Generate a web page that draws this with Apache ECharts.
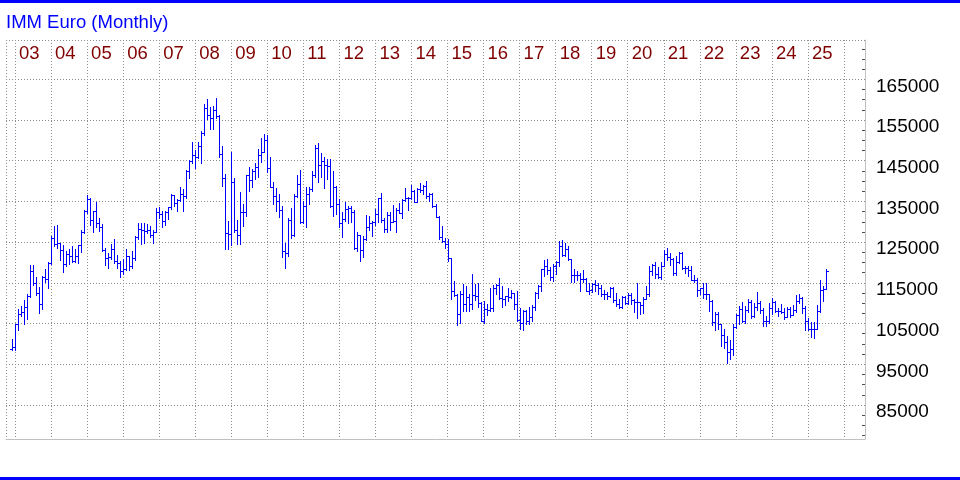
<!DOCTYPE html>
<html>
<head>
<meta charset="utf-8">
<script src="https://cdn.jsdelivr.net/npm/echarts@6/dist/echarts.min.js"></script>
<style>html,body{margin:0;padding:0;background:#fff}#c{width:960px;height:480px}</style>
</head>
<body>
<div id="c"></div>
<script>
const chartTitle = 'IMM Euro (Monthly)';
const firstBar = { year: 2002, month: 11 };   // first monthly bar
const yearLabels = ['03','04','05','06','07','08','09','10','11','12','13','14','15','16','17','18','19','20','21','22','23','24','25'];
const yLabels = [85000, 95000, 105000, 115000, 125000, 135000, 145000, 155000, 165000];

const opens = [
  98850, 99200,
  104870,107300,107900,109100,111650,118000,114900,112450,109900,116500,115900,119950,
  125950,124550,124700,123150,119750,122000,121700,120250,121700,124350,127600,132700,
  135550,130400,132550,129650,128750,122950,121000,121250,123350,120250,119950,117900,
  118450,121600,119150,121150,126250,128350,127900,127700,128100,126850,127600,132500,
  132000,130100,132300,133550,136500,134500,135400,136800,136300,142600,144900,146300,
  145900,148600,151850,157850,156250,155500,157550,156050,146750,140800,127250,126950,
  139700,128050,126700,132500,132350,141550,140300,142550,143400,146400,147200,150050,
  143200,138650,136250,135100,132950,122750,122350,130550,126800,136300,139250,129850,
  133800,136900,138050,141600,148050,143950,145000,143950,143750,133850,138650,134450,
  129600,130800,133200,133400,132300,123650,126650,123000,125750,128600,129600,129900,
  131900,135800,130550,128200,131700,129950,130100,133000,132200,135250,135800,135900,
  137450,134850,138000,137700,138700,136350,136900,133900,131300,126300,125250,124500,
  121000,112900,111950,107300,112200,109850,111450,109850,112100,111750,110050,105650,
  108600,108300,108750,113800,114550,111300,111050,111750,111550,112400,109800,105900,
  105200,108000,105750,106500,108950,112400,114250,118400,119100,118100,116450,119050,
  120050,124150,121950,123250,120800,116900,116850,116900,116000,116050,113100,113150,
  114650,114450,113700,112150,112150,111700,113700,110800,109850,109000,111500,110150,
  112100,110900,110250,110300,109550,111050,112350,117800,119350,117200,116450,119250,
  122150,121350,120750,117300,120200,122250,118550,118700,118050,115800,115600,113350,
  113700,112350,112200,110650,105450,107350,104800,102200,100550,98000,98800,104050,
  107050,108650,105750,108400,110200,106900,109100,109950,108450,105750,105750,108850,
  110400,108150,108050,107900,106650,108500,107150,108250,110450,111350,108850,105750,
  103550,103600,103750,108150,113300,113450
];
const highs = [
  101250,105000,
  108650,109350,110800,112300,119350,119300,116400,114000,116700,118300,120050,126450,
  129000,129300,124900,124250,122750,123200,124000,123300,124400,128100,133000,136650,
  135800,132750,134800,130900,129350,123600,122400,124450,125850,121850,120250,120900,
  123250,121700,122850,126450,129800,129800,129800,129450,129000,128050,133300,133650,
  132700,132650,133750,136800,136600,135500,138500,138000,142800,145300,149700,147600,
  149700,152400,159050,160200,158200,158450,160400,156200,148650,141700,130100,147200,
  140700,130450,137400,134300,141600,143400,142950,144450,147800,150600,151450,151400,
  145800,139850,138200,136900,133850,124700,131000,133350,136850,141600,142800,135000,
  138600,138600,142500,148800,149400,147000,145800,145500,145500,142500,138700,135500,
  132350,134850,133850,133850,132800,127450,126700,126400,131700,131400,130100,133100,
  135900,137100,131000,132450,132450,134150,133450,134500,135700,138300,136200,138950,
  137750,138250,139650,139050,139950,137000,137000,134450,131500,128850,126000,125700,
  121050,115350,112150,112900,114650,114350,112150,117150,114600,114950,110400,110600,
  109900,113750,114400,114650,116150,114250,111850,113650,113300,112550,113000,108750,
  108300,108300,109050,109500,112650,114450,118450,120700,120900,118800,119600,120250,
  125350,125550,124750,124150,120950,118500,117900,117350,118150,116250,115000,114850,
  115700,114900,114500,113250,112650,114100,114100,112500,111100,111800,111800,112400,
  112400,111000,114950,110400,111450,114200,119100,119650,120100,118800,120050,123100,
  123500,122450,121150,121500,122650,122550,119100,119050,119100,116900,116150,113850,
  114850,114950,112350,110750,107850,107750,104850,103700,102000,100950,104800,107350,
  109300,110350,109300,110950,110900,110100,112750,110650,108800,106950,110150,111400,
  110450,108900,109800,108850,108950,109150,109500,112000,112150,111450,109350,106300,
  105350,105300,109550,115750,114200,118300
];
const lows = [
  98600, 98600,
  103350,106900,105000,106200,111600,114400,112100,107650,108600,115300,113800,119700,
  124000,123500,120600,117600,119050,119600,120150,120100,120000,122500,127350,132100,
  129250,127600,128800,127800,122900,119500,118700,120850,119850,118750,116400,117100,
  118200,118200,118700,120700,125700,124550,124800,127200,126150,124800,127450,131000,
  128650,129250,130700,133050,134000,132650,135000,132600,135800,140700,144500,143300,
  145750,144400,151400,155150,152850,152850,155550,145800,138800,123300,123300,124200,
  127450,124550,124550,128850,131350,137500,138450,140450,141050,144800,147150,142200,
  138600,134400,132700,131150,121450,118750,121500,125900,126600,136200,129700,129700,
  128700,134300,137500,141100,139700,140900,138400,140500,133600,131450,131850,128600,
  126250,130300,129750,129950,123350,122900,120400,121300,125600,128000,126600,129200,
  129950,130000,127450,127450,127950,129900,127550,132050,131000,135000,132950,135500,
  134750,134800,137250,136750,135850,135000,133650,131250,125700,125000,123600,120300,
  111000,111800,104600,105200,108200,108200,108100,108500,110900,108950,105600,105250,
  107100,108100,108100,112150,111000,109100,109500,110450,111200,108500,105700,103550,
  103400,104950,104950,105700,108400,111200,113100,116650,117150,115750,115550,117200,
  119150,121550,121550,120550,115100,115100,115750,113000,115250,113000,112150,112700,
  112900,112350,111750,111100,111050,111600,110300,109250,108800,108800,109800,109800,
  109900,107800,106350,107250,107650,110950,111850,116950,116100,116200,116000,119250,
  120550,119500,117050,117050,119850,118450,117500,116650,115650,115250,111850,112200,
  111200,111050,108050,104700,103500,103600,99500,99000,95360,96300,97300,103950,
  104800,105350,105150,107900,106350,106650,108350,107650,104500,104500,105150,107250,
  107950,106950,107650,106000,106500,106650,107100,107750,110000,107600,103350,103450,
  101750,101400,103600,107800,110650,113450
];
const closes = [
  99200,104870,
  107300,107900,109100,111650,118000,114900,112450,109900,116500,115900,119950,125950,
  124550,124700,123150,119750,122000,121700,120250,121700,124350,127600,132700,135550,
  130400,132550,129650,128750,122950,121000,121250,123350,120250,119950,117900,118450,
  121600,119150,121150,126250,128350,127900,127700,128100,126850,127600,132500,132000,
  130100,132300,133550,136500,134500,135400,136800,136300,142600,144900,146300,145900,
  148600,151850,157850,156250,155500,157550,156050,146750,140800,127250,126950,139700,
  128050,126700,132500,132350,141550,140300,142550,143400,146400,147200,150050,143200,
  138650,136250,135100,132950,122750,122350,130550,126800,136300,139250,129850,133800,
  136900,138050,141600,148050,143950,145000,143950,143750,133850,138650,134450,129600,
  130800,133200,133400,132300,123650,126650,123000,125750,128600,129600,129900,131900,
  135800,130550,128200,131700,129950,130100,133000,132200,135250,135800,135900,137450,
  134850,138000,137700,138700,136350,136900,133900,131300,126300,125250,124500,121000,
  112900,111950,107300,112200,109850,111450,109850,112100,111750,110050,105650,108600,
  108300,108750,113800,114550,111300,111050,111750,111550,112400,109800,105900,105200,
  108000,105750,106500,108950,112400,114250,118400,119100,118100,116450,119050,120050,
  124150,121950,123250,120800,116900,116850,116900,116000,116050,113100,113150,114650,
  114450,113700,112150,112150,111700,113700,110800,109850,109000,111500,110150,112100,
  110900,110250,110300,109550,111050,112350,117800,119350,117200,116450,119250,122150,
  121350,120750,117300,120200,122250,118550,118700,118050,115800,115600,113350,113700,
  112350,112200,110650,105450,107350,104800,102200,100550,98000,98800,104050,107050,
  108650,105750,108400,110200,106900,109100,109950,108450,105750,105750,108850,110400,
  108150,108050,107900,106650,108500,107150,108250,110450,111350,108850,105750,103550,
  103600,103750,108150,113300,113450,117850
];

// month categories: 2 empty slots before the first bar, 13 after the last
const padBefore = 2, padAfter = 13;
const cats = [];
for (let k = -padBefore; k < opens.length + padAfter; k++) {
  const m = firstBar.month - 1 + k;
  const y = firstBar.year + Math.floor(m / 12);
  const mm = ((m % 12) + 12) % 12 + 1;
  cats.push(y + '-' + String(mm).padStart(2, '0'));
}
const bars = opens.map((o, i) => [i + padBefore, o, highs[i], lows[i], closes[i]]);
const firstLabelYear = 2002; // year whose December line carries yearLabels[0]

const FONT = '"Liberation Sans", Arial, sans-serif';
const DOT = { color: '#8c8c8c', type: [1, 2], width: 1 };

function renderItem(params, api) {
  const idx = api.value(0);
  const pO = api.coord([idx, api.value(1)]);
  const pH = api.coord([idx, api.value(2)]);
  const pL = api.coord([idx, api.value(3)]);
  const pC = api.coord([idx, api.value(4)]);
  const x = Math.round(pH[0]) + 0.5;
  const yo = Math.round(pO[1]) + 0.5;
  const yc = Math.round(pC[1]) + 0.5;
  const style = { stroke: '#0000ff', lineWidth: 1, fill: null };
  return {
    type: 'group',
    children: [
      { type: 'line', shape: { x1: x, y1: Math.round(pH[1]), x2: x, y2: Math.round(pL[1]) + 1 }, style },
      { type: 'line', shape: { x1: x - 2.5, y1: yo, x2: x, y2: yo }, style },
      { type: 'line', shape: { x1: x, y1: yc, x2: x + 2.5, y2: yc }, style }
    ]
  };
}

const chart = echarts.init(document.getElementById('c'), null, { renderer: 'canvas', width: 960, height: 480 });
chart.setOption({
  animation: false,
  backgroundColor: '#ffffff',
  title: {
    text: chartTitle, left: 6, top: 13, padding: 0,
    textStyle: { color: '#0000ff', fontSize: 18.5, fontWeight: 'normal', fontFamily: FONT }
  },
  graphic: [
    { type: 'rect', silent: true, shape: { x: 0, y: 0, width: 960, height: 3 }, style: { fill: '#0000ff' } },
    { type: 'rect', silent: true, shape: { x: 0, y: 477, width: 960, height: 3 }, style: { fill: '#0000ff' } }
  ],
  grid: [
    { left: 6, right: 95, top: 40, bottom: 41, show: false, outerBoundsMode: 'none' },
    { left: 6, right: 95, top: 38.6, bottom: 34.3, show: false, outerBoundsMode: 'none' }
  ],
  xAxis: [
    {
      type: 'category', gridIndex: 0, data: cats, boundaryGap: false, position: 'bottom',
      axisLine: { show: true, lineStyle: { color: '#c0c0c0', width: 1 } },
      axisTick: { show: false }, axisLabel: { show: false },
      splitLine: { show: true, interval: (i, v) => i === 0 || v.endsWith('-12'), lineStyle: DOT }
    },
    {
      type: 'category', gridIndex: 0, data: cats, boundaryGap: false, position: 'top',
      axisLine: { show: false }, axisTick: { show: false }, splitLine: { show: false },
      axisLabel: {
        show: true, inside: true, margin: 7,
        interval: (i, v) => v.endsWith('-12') && (+v.slice(0, 4) - firstLabelYear) >= 0 && (+v.slice(0, 4) - firstLabelYear) < yearLabels.length,
        formatter: v => yearLabels[+v.slice(0, 4) - firstLabelYear] || '',
        color: '#800000', fontSize: 18.5, fontFamily: FONT, align: 'left', verticalAlign: 'top',
        lineHeight: 14, padding: [0, 0, 0, 4]
      }
    },
    { type: 'category', gridIndex: 1, data: cats, boundaryGap: false, show: false }
  ],
  yAxis: [
    {
      type: 'value', gridIndex: 0, min: 0, max: 1, interval: 1, position: 'right',
      axisLine: { show: true, lineStyle: { color: '#c0c0c0', width: 1 } },
      axisTick: { show: false }, axisLabel: { show: false },
      splitLine: { show: true, showMinLine: false, lineStyle: DOT }
    },
    {
      type: 'value', gridIndex: 1, min: 75000, max: 175000, interval: 10000, position: 'right',
      axisLine: { show: false },
      axisTick: { show: false, inside: true, length: 3 },
      minorTick: { show: true, splitNumber: 4, length: 3, lineStyle: { color: '#505050', width: 1 } },
      splitLine: { show: true, showMinLine: false, showMaxLine: false, lineStyle: DOT },
      axisLabel: {
        show: true, margin: 11, color: '#000000', fontSize: 19, fontFamily: FONT,
        verticalAlign: 'top', lineHeight: 14,
        formatter: v => (yLabels.indexOf(v) >= 0 ? String(v) : '')
      }
    }
  ],
  series: [{
    type: 'custom', xAxisIndex: 2, yAxisIndex: 1, data: bars, renderItem,
    encode: { x: 0, y: [1, 2, 3, 4] }, clip: false, silent: true, z: 5
  }]
});
</script>
</body>
</html>
